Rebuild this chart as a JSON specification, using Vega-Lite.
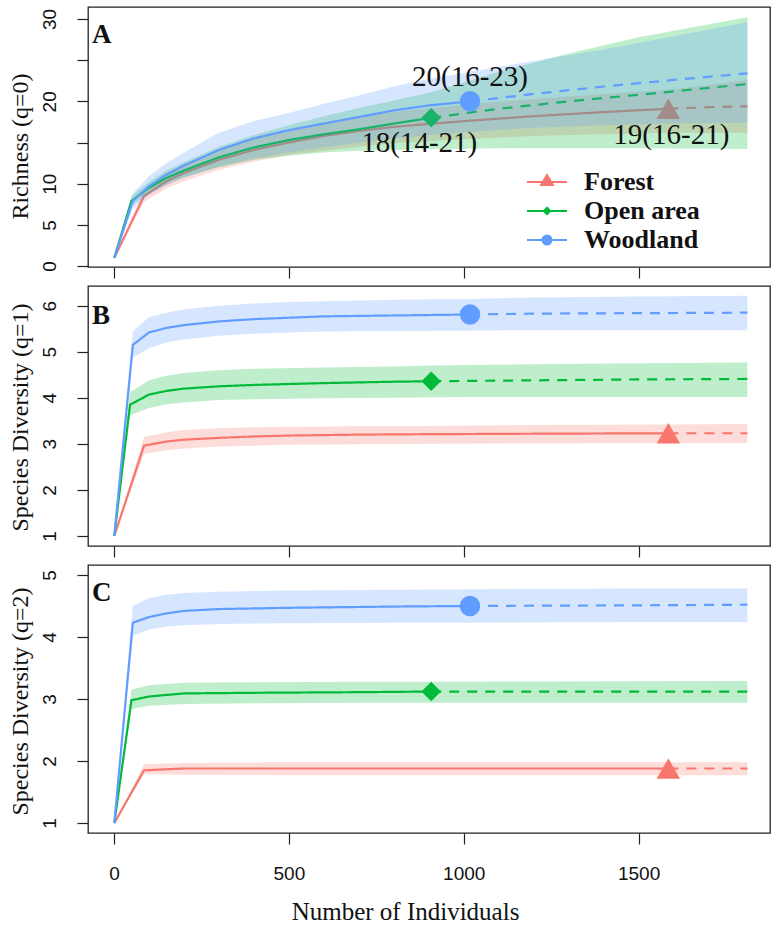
{
  "$schema": "https://vega.github.io/schema/vega-lite/v6.json",
  "autosize": {"type": "pad"},
  "padding": {"left": 7, "top": 6, "right": 0, "bottom": 0},
  "background": "white",
  "spacing": 19,
  "bounds": "flush",
  "config": {
    "view": {"stroke": "#222", "strokeWidth": 1.3},
    "axis": {"grid": false, "domain": false, "tickColor": "#222", "tickWidth": 1.2, "tickSize": 11,
      "labelFont": "Liberation Sans", "labelFontSize": 19, "labelColor": "#111",
      "titleFont": "Liberation Serif", "titleFontSize": 24, "titleFontWeight": "normal", "titleColor": "#111"},
    "title": {"font": "Liberation Serif", "fontSize": 27, "fontWeight": "bold", "color": "#111"}
  },
  "datasets": {
    "d": [
      {"p":"A","s":"Forest","m":"i","x":1,"y":1,"lo":1,"hi":1},
      {"p":"A","s":"Forest","m":"i","x":86,"y":8.5,"lo":7.8,"hi":9.2},
      {"p":"A","s":"Forest","m":"i","x":150,"y":10.3,"lo":9.4,"hi":11.2},
      {"p":"A","s":"Forest","m":"i","x":200,"y":11.3,"lo":10.3,"hi":12.3},
      {"p":"A","s":"Forest","m":"i","x":300,"y":12.9,"lo":11.7,"hi":14.1},
      {"p":"A","s":"Forest","m":"i","x":400,"y":14.1,"lo":12.7,"hi":15.5},
      {"p":"A","s":"Forest","m":"i","x":500,"y":15.0,"lo":13.5,"hi":16.5},
      {"p":"A","s":"Forest","m":"i","x":600,"y":15.8,"lo":14.0,"hi":17.4},
      {"p":"A","s":"Forest","m":"i","x":700,"y":16.4,"lo":14.5,"hi":18.1},
      {"p":"A","s":"Forest","m":"i","x":800,"y":16.9,"lo":14.9,"hi":18.7},
      {"p":"A","s":"Forest","m":"i","x":1000,"y":17.6,"lo":15.4,"hi":19.6},
      {"p":"A","s":"Forest","m":"i","x":1200,"y":18.2,"lo":15.8,"hi":20.3},
      {"p":"A","s":"Forest","m":"i","x":1400,"y":18.7,"lo":16.0,"hi":20.9},
      {"p":"A","s":"Forest","m":"i","x":1585,"y":19.1,"lo":16.2,"hi":21.4,"o":1,"lab":"19(16-21)"},
      {"p":"A","s":"Forest","m":"e","x":1585,"y":19.1,"lo":16.2,"hi":21.4},
      {"p":"A","s":"Forest","m":"e","x":1700,"y":19.3,"lo":16.2,"hi":22.0},
      {"p":"A","s":"Forest","m":"e","x":1811,"y":19.4,"lo":16.2,"hi":22.6},

      {"p":"A","s":"Open area","m":"i","x":1,"y":1,"lo":1,"hi":1},
      {"p":"A","s":"Open area","m":"i","x":50,"y":7.9,"lo":7.3,"hi":8.5},
      {"p":"A","s":"Open area","m":"i","x":100,"y":9.5,"lo":8.8,"hi":10.2},
      {"p":"A","s":"Open area","m":"i","x":150,"y":10.7,"lo":9.9,"hi":11.6},
      {"p":"A","s":"Open area","m":"i","x":200,"y":11.6,"lo":10.8,"hi":12.6},
      {"p":"A","s":"Open area","m":"i","x":300,"y":13.2,"lo":12.0,"hi":14.5},
      {"p":"A","s":"Open area","m":"i","x":400,"y":14.4,"lo":12.9,"hi":15.9},
      {"p":"A","s":"Open area","m":"i","x":500,"y":15.3,"lo":13.4,"hi":17.1},
      {"p":"A","s":"Open area","m":"i","x":600,"y":16.0,"lo":13.8,"hi":18.2},
      {"p":"A","s":"Open area","m":"i","x":700,"y":16.6,"lo":14.0,"hi":19.2},
      {"p":"A","s":"Open area","m":"i","x":800,"y":17.3,"lo":14.1,"hi":20.1},
      {"p":"A","s":"Open area","m":"i","x":907,"y":18.0,"lo":14.2,"hi":21.1,"o":1,"lab":"18(14-21)"},
      {"p":"A","s":"Open area","m":"e","x":907,"y":18.0,"lo":14.2,"hi":21.1},
      {"p":"A","s":"Open area","m":"e","x":1100,"y":19.1,"lo":14.3,"hi":23.6},
      {"p":"A","s":"Open area","m":"e","x":1300,"y":20.0,"lo":14.3,"hi":25.8},
      {"p":"A","s":"Open area","m":"e","x":1500,"y":20.8,"lo":14.3,"hi":27.8},
      {"p":"A","s":"Open area","m":"e","x":1811,"y":22.1,"lo":14.2,"hi":30.2},

      {"p":"A","s":"Woodland","m":"i","x":1,"y":1,"lo":1,"hi":1},
      {"p":"A","s":"Woodland","m":"i","x":54,"y":7.9,"lo":7.0,"hi":8.8},
      {"p":"A","s":"Woodland","m":"i","x":100,"y":9.7,"lo":8.6,"hi":10.9},
      {"p":"A","s":"Woodland","m":"i","x":150,"y":11.1,"lo":9.8,"hi":12.5},
      {"p":"A","s":"Woodland","m":"i","x":200,"y":12.2,"lo":10.7,"hi":13.8},
      {"p":"A","s":"Woodland","m":"i","x":300,"y":14.1,"lo":12.1,"hi":16.2},
      {"p":"A","s":"Woodland","m":"i","x":400,"y":15.5,"lo":13.1,"hi":17.6},
      {"p":"A","s":"Woodland","m":"i","x":500,"y":16.5,"lo":13.8,"hi":18.6},
      {"p":"A","s":"Woodland","m":"i","x":600,"y":17.3,"lo":14.4,"hi":19.7},
      {"p":"A","s":"Woodland","m":"i","x":700,"y":18.1,"lo":15.0,"hi":20.7},
      {"p":"A","s":"Woodland","m":"i","x":800,"y":18.9,"lo":15.5,"hi":21.8},
      {"p":"A","s":"Woodland","m":"i","x":900,"y":19.5,"lo":15.9,"hi":22.7},
      {"p":"A","s":"Woodland","m":"i","x":1018,"y":20.0,"lo":16.3,"hi":23.6,"o":1,"lab":"20(16-23)"},
      {"p":"A","s":"Woodland","m":"e","x":1018,"y":20.0,"lo":16.3,"hi":23.6},
      {"p":"A","s":"Woodland","m":"e","x":1200,"y":20.9,"lo":16.8,"hi":24.9},
      {"p":"A","s":"Woodland","m":"e","x":1400,"y":21.8,"lo":17.1,"hi":26.3},
      {"p":"A","s":"Woodland","m":"e","x":1600,"y":22.6,"lo":17.3,"hi":27.9},
      {"p":"A","s":"Woodland","m":"e","x":1811,"y":23.4,"lo":17.4,"hi":29.6},

      {"p":"B","s":"Forest","m":"i","x":1,"y":1,"lo":1,"hi":1},
      {"p":"B","s":"Forest","m":"i","x":86,"y":2.96,"lo":2.78,"hi":3.15},
      {"p":"B","s":"Forest","m":"i","x":150,"y":3.05,"lo":2.86,"hi":3.25},
      {"p":"B","s":"Forest","m":"i","x":200,"y":3.09,"lo":2.9,"hi":3.3},
      {"p":"B","s":"Forest","m":"i","x":300,"y":3.13,"lo":2.94,"hi":3.34},
      {"p":"B","s":"Forest","m":"i","x":400,"y":3.16,"lo":2.96,"hi":3.36},
      {"p":"B","s":"Forest","m":"i","x":500,"y":3.18,"lo":2.98,"hi":3.37},
      {"p":"B","s":"Forest","m":"i","x":700,"y":3.2,"lo":2.99,"hi":3.38},
      {"p":"B","s":"Forest","m":"i","x":900,"y":3.21,"lo":3.0,"hi":3.39},
      {"p":"B","s":"Forest","m":"i","x":1200,"y":3.22,"lo":3.01,"hi":3.41},
      {"p":"B","s":"Forest","m":"i","x":1585,"y":3.23,"lo":3.02,"hi":3.42,"o":1},
      {"p":"B","s":"Forest","m":"e","x":1585,"y":3.23,"lo":3.02,"hi":3.42},
      {"p":"B","s":"Forest","m":"e","x":1811,"y":3.23,"lo":3.02,"hi":3.43},

      {"p":"B","s":"Open area","m":"i","x":1,"y":1,"lo":1,"hi":1},
      {"p":"B","s":"Open area","m":"i","x":46,"y":3.85,"lo":3.62,"hi":4.12},
      {"p":"B","s":"Open area","m":"i","x":100,"y":4.07,"lo":3.78,"hi":4.38},
      {"p":"B","s":"Open area","m":"i","x":150,"y":4.15,"lo":3.86,"hi":4.48},
      {"p":"B","s":"Open area","m":"i","x":200,"y":4.2,"lo":3.9,"hi":4.54},
      {"p":"B","s":"Open area","m":"i","x":300,"y":4.25,"lo":3.95,"hi":4.6},
      {"p":"B","s":"Open area","m":"i","x":400,"y":4.28,"lo":3.97,"hi":4.63},
      {"p":"B","s":"Open area","m":"i","x":600,"y":4.32,"lo":3.99,"hi":4.66},
      {"p":"B","s":"Open area","m":"i","x":800,"y":4.35,"lo":4.0,"hi":4.68},
      {"p":"B","s":"Open area","m":"i","x":907,"y":4.36,"lo":4.01,"hi":4.7,"o":1},
      {"p":"B","s":"Open area","m":"e","x":907,"y":4.36,"lo":4.01,"hi":4.7},
      {"p":"B","s":"Open area","m":"e","x":1200,"y":4.38,"lo":4.02,"hi":4.73},
      {"p":"B","s":"Open area","m":"e","x":1500,"y":4.4,"lo":4.02,"hi":4.75},
      {"p":"B","s":"Open area","m":"e","x":1811,"y":4.41,"lo":4.02,"hi":4.77},

      {"p":"B","s":"Woodland","m":"i","x":1,"y":1,"lo":1,"hi":1},
      {"p":"B","s":"Woodland","m":"i","x":54,"y":5.15,"lo":4.87,"hi":5.45},
      {"p":"B","s":"Woodland","m":"i","x":100,"y":5.42,"lo":5.08,"hi":5.75},
      {"p":"B","s":"Woodland","m":"i","x":150,"y":5.52,"lo":5.2,"hi":5.85},
      {"p":"B","s":"Woodland","m":"i","x":200,"y":5.58,"lo":5.27,"hi":5.92},
      {"p":"B","s":"Woodland","m":"i","x":300,"y":5.66,"lo":5.35,"hi":6.0},
      {"p":"B","s":"Woodland","m":"i","x":400,"y":5.71,"lo":5.39,"hi":6.05},
      {"p":"B","s":"Woodland","m":"i","x":500,"y":5.74,"lo":5.42,"hi":6.08},
      {"p":"B","s":"Woodland","m":"i","x":600,"y":5.77,"lo":5.44,"hi":6.1},
      {"p":"B","s":"Woodland","m":"i","x":800,"y":5.79,"lo":5.45,"hi":6.13},
      {"p":"B","s":"Woodland","m":"i","x":1018,"y":5.81,"lo":5.46,"hi":6.15,"o":1},
      {"p":"B","s":"Woodland","m":"e","x":1018,"y":5.81,"lo":5.46,"hi":6.15},
      {"p":"B","s":"Woodland","m":"e","x":1200,"y":5.83,"lo":5.47,"hi":6.18},
      {"p":"B","s":"Woodland","m":"e","x":1500,"y":5.84,"lo":5.47,"hi":6.2},
      {"p":"B","s":"Woodland","m":"e","x":1811,"y":5.85,"lo":5.47,"hi":6.22},

      {"p":"C","s":"Forest","m":"i","x":1,"y":1,"lo":1,"hi":1},
      {"p":"C","s":"Forest","m":"i","x":86,"y":1.85,"lo":1.79,"hi":1.95},
      {"p":"C","s":"Forest","m":"i","x":200,"y":1.88,"lo":1.78,"hi":1.97},
      {"p":"C","s":"Forest","m":"i","x":500,"y":1.88,"lo":1.77,"hi":1.98},
      {"p":"C","s":"Forest","m":"i","x":1000,"y":1.88,"lo":1.77,"hi":1.98},
      {"p":"C","s":"Forest","m":"i","x":1585,"y":1.88,"lo":1.77,"hi":1.98,"o":1},
      {"p":"C","s":"Forest","m":"e","x":1585,"y":1.88,"lo":1.77,"hi":1.98},
      {"p":"C","s":"Forest","m":"e","x":1811,"y":1.88,"lo":1.77,"hi":1.98},

      {"p":"C","s":"Open area","m":"i","x":1,"y":1,"lo":1,"hi":1},
      {"p":"C","s":"Open area","m":"i","x":50,"y":2.98,"lo":2.84,"hi":3.15},
      {"p":"C","s":"Open area","m":"i","x":100,"y":3.04,"lo":2.89,"hi":3.22},
      {"p":"C","s":"Open area","m":"i","x":200,"y":3.09,"lo":2.92,"hi":3.26},
      {"p":"C","s":"Open area","m":"i","x":400,"y":3.1,"lo":2.93,"hi":3.27},
      {"p":"C","s":"Open area","m":"i","x":700,"y":3.11,"lo":2.94,"hi":3.28},
      {"p":"C","s":"Open area","m":"i","x":907,"y":3.12,"lo":2.94,"hi":3.28,"o":1},
      {"p":"C","s":"Open area","m":"e","x":907,"y":3.12,"lo":2.94,"hi":3.28},
      {"p":"C","s":"Open area","m":"e","x":1811,"y":3.12,"lo":2.94,"hi":3.29},

      {"p":"C","s":"Woodland","m":"i","x":1,"y":1,"lo":1,"hi":1},
      {"p":"C","s":"Woodland","m":"i","x":54,"y":4.23,"lo":4.02,"hi":4.5},
      {"p":"C","s":"Woodland","m":"i","x":100,"y":4.32,"lo":4.12,"hi":4.63},
      {"p":"C","s":"Woodland","m":"i","x":150,"y":4.38,"lo":4.17,"hi":4.68},
      {"p":"C","s":"Woodland","m":"i","x":200,"y":4.42,"lo":4.19,"hi":4.71},
      {"p":"C","s":"Woodland","m":"i","x":300,"y":4.45,"lo":4.21,"hi":4.73},
      {"p":"C","s":"Woodland","m":"i","x":500,"y":4.47,"lo":4.22,"hi":4.75},
      {"p":"C","s":"Woodland","m":"i","x":800,"y":4.49,"lo":4.23,"hi":4.76},
      {"p":"C","s":"Woodland","m":"i","x":1018,"y":4.5,"lo":4.23,"hi":4.77,"o":1},
      {"p":"C","s":"Woodland","m":"e","x":1018,"y":4.5,"lo":4.23,"hi":4.77},
      {"p":"C","s":"Woodland","m":"e","x":1500,"y":4.51,"lo":4.24,"hi":4.78},
      {"p":"C","s":"Woodland","m":"e","x":1811,"y":4.52,"lo":4.24,"hi":4.78}
    ]
  },
  "vconcat": [
    {
      "width": 682, "height": 260,
      "data": {"name": "d"},
      "title": {"text": "A", "anchor": "start", "frame": "group", "offset": 0, "baseline": "alphabetic", "dx": 4, "dy": 63},
      "transform": [{"filter": "datum.p == 'A'"}],
      "encoding": {
        "x": {"field": "x", "type": "quantitative", "scale": {"domain": [-74.2, 1875.6], "nice": false, "zero": false}, "axis": {"values": [0, 500, 1000, 1500], "labels": false, "title": null}},
        "color": {"field": "s", "type": "nominal", "scale": {"domain": ["Forest", "Open area", "Woodland"], "range": ["#F8766D", "#00BA38", "#619CFF"]},
          "legend": {"orient": "none", "legendX": 443.5, "legendY": 159.5, "title": null, "padding": 0, "rowPadding": 0, "labelOffset": 21.5,
            "labelFont": "Liberation Serif", "labelFontSize": 26, "labelFontWeight": "bold", "labelColor": "#111", "labelLimit": 0,
            "symbolSize": 841, "symbolStrokeWidth": 2, "symbolOpacity": 1,
            "encode": {"symbols": {"update": {
              "shape": {"signal": "datum.value == 'Forest' ? 'M-1.38,0H1.38M0,-0.48L0.41,0.2L-0.41,0.2Z' : datum.value == 'Open area' ? 'M-1.38,0H1.38M0,-0.22L0.22,0L0,0.22L-0.22,0Z' : 'M-1.38,0H1.38M-0.31,0A0.31,0.31,0,1,0,0.31,0A0.31,0.31,0,1,0,-0.31,0Z'"},
              "fill": {"signal": "datum.value == 'Forest' ? '#F8766D' : datum.value == 'Open area' ? '#00BA38' : '#619CFF'"},
              "stroke": {"signal": "datum.value == 'Forest' ? '#F8766D' : datum.value == 'Open area' ? '#00BA38' : '#619CFF'"},
              "strokeWidth": {"value": 2}, "opacity": {"value": 1}, "fillOpacity": {"value": 1}, "strokeOpacity": {"value": 1}}}}}}
      },
      "layer": [
        {"transform": [{"filter": "datum.s == 'Forest'"}], "mark": {"type": "area", "opacity": 0.25},
          "encoding": {"y": {"field": "lo", "type": "quantitative", "scale": {"domain": [-0.12, 31.46], "nice": false, "zero": false}, "axis": {"values": [0, 5, 10, 15, 20, 25, 30], "format": "d", "labelExpr": "datum.value == 15 || datum.value == 25 ? '' : datum.label", "labelOverlap": false, "labelAngle": -90, "labelAlign": "center", "labelBaseline": "alphabetic", "labelPadding": 22, "title": "Richness (q=0)", "titleAngle": -90, "titleBaseline": "alphabetic", "titleAlign": "center", "titleX": -61, "titleY": 139}}, "y2": {"field": "hi"}}},
        {"transform": [{"filter": "datum.s == 'Forest'"}], "mark": {"type": "line", "strokeWidth": 2.2},
          "encoding": {"y": {"field": "y", "type": "quantitative"}, "strokeDash": {"field": "m", "type": "nominal", "scale": {"domain": ["i", "e"], "range": [[1, 0], [10, 8]]}, "legend": null}}},
        {"transform": [{"filter": "datum.s == 'Forest' && datum.o == 1"}], "mark": {"type": "point", "filled": true, "opacity": 1, "shape": "triangle-up", "size": 550},
          "encoding": {"y": {"field": "y", "type": "quantitative"}}},
        {"transform": [{"filter": "datum.s == 'Open area'"}], "mark": {"type": "area", "opacity": 0.25},
          "encoding": {"y": {"field": "lo", "type": "quantitative"}, "y2": {"field": "hi"}}},
        {"transform": [{"filter": "datum.s == 'Open area'"}], "mark": {"type": "line", "strokeWidth": 2.2},
          "encoding": {"y": {"field": "y", "type": "quantitative"}, "strokeDash": {"field": "m", "type": "nominal", "scale": {"domain": ["i", "e"], "range": [[1, 0], [10, 8]]}, "legend": null}}},
        {"transform": [{"filter": "datum.s == 'Open area' && datum.o == 1"}], "mark": {"type": "point", "filled": true, "opacity": 1, "shape": "diamond", "size": 380},
          "encoding": {"y": {"field": "y", "type": "quantitative"}}},
        {"transform": [{"filter": "datum.s == 'Woodland'"}], "mark": {"type": "area", "opacity": 0.25},
          "encoding": {"y": {"field": "lo", "type": "quantitative"}, "y2": {"field": "hi"}}},
        {"transform": [{"filter": "datum.s == 'Woodland'"}], "mark": {"type": "line", "strokeWidth": 2.2},
          "encoding": {"y": {"field": "y", "type": "quantitative"}, "strokeDash": {"field": "m", "type": "nominal", "scale": {"domain": ["i", "e"], "range": [[1, 0], [10, 8]]}, "legend": null}}},
        {"transform": [{"filter": "datum.s == 'Woodland' && datum.o == 1"}], "mark": {"type": "point", "filled": true, "opacity": 1, "shape": "circle", "size": 420},
          "encoding": {"y": {"field": "y", "type": "quantitative"}}},
        {"transform": [{"filter": "datum.s == 'Woodland' && datum.o == 1"}], "mark": {"type": "text", "font": "Liberation Serif", "fontSize": 29, "baseline": "alphabetic", "align": "center", "dy": -15},
          "encoding": {"y": {"field": "y", "type": "quantitative"}, "text": {"field": "lab"}, "color": {"value": "#111"}}},
        {"transform": [{"filter": "datum.s == 'Open area' && datum.o == 1"}], "mark": {"type": "text", "font": "Liberation Serif", "fontSize": 29, "baseline": "alphabetic", "align": "center", "dx": -12, "dy": 34},
          "encoding": {"y": {"field": "y", "type": "quantitative"}, "text": {"field": "lab"}, "color": {"value": "#111"}}},
        {"transform": [{"filter": "datum.s == 'Forest' && datum.o == 1"}], "mark": {"type": "text", "font": "Liberation Serif", "fontSize": 29, "baseline": "alphabetic", "align": "center", "dx": 3, "dy": 35},
          "encoding": {"y": {"field": "y", "type": "quantitative"}, "text": {"field": "lab"}, "color": {"value": "#111"}}}
      ]
    },
    {
      "width": 682, "height": 260,
      "data": {"name": "d"},
      "title": {"text": "B", "anchor": "start", "frame": "group", "offset": 0, "baseline": "alphabetic", "dx": 4, "dy": 65},
      "transform": [{"filter": "datum.p == 'B'"}],
      "encoding": {
        "x": {"field": "x", "type": "quantitative", "scale": {"domain": [-74.2, 1875.6], "nice": false, "zero": false}, "axis": {"values": [0, 500, 1000, 1500], "labels": false, "title": null}},
        "color": {"field": "s", "type": "nominal", "scale": {"domain": ["Forest", "Open area", "Woodland"], "range": ["#F8766D", "#00BA38", "#619CFF"]}, "legend": null}
      },
      "layer": [
        {"transform": [{"filter": "datum.s == 'Forest'"}], "mark": {"type": "area", "opacity": 0.25},
          "encoding": {"y": {"field": "lo", "type": "quantitative", "scale": {"domain": [0.78, 6.43], "nice": false, "zero": false}, "axis": {"values": [1, 2, 3, 4, 5, 6], "format": "d", "labelOverlap": false, "labelAngle": -90, "labelAlign": "center", "labelBaseline": "alphabetic", "labelPadding": 22, "title": "Species Diversity (q=1)", "titleAngle": -90, "titleBaseline": "alphabetic", "titleAlign": "center", "titleX": -61, "titleY": 131}}, "y2": {"field": "hi"}}},
        {"transform": [{"filter": "datum.s == 'Forest'"}], "mark": {"type": "line", "strokeWidth": 2.2},
          "encoding": {"y": {"field": "y", "type": "quantitative"}, "strokeDash": {"field": "m", "type": "nominal", "scale": {"domain": ["i", "e"], "range": [[1, 0], [10, 8]]}, "legend": null}}},
        {"transform": [{"filter": "datum.s == 'Forest' && datum.o == 1"}], "mark": {"type": "point", "filled": true, "opacity": 1, "shape": "triangle-up", "size": 550},
          "encoding": {"y": {"field": "y", "type": "quantitative"}}},
        {"transform": [{"filter": "datum.s == 'Open area'"}], "mark": {"type": "area", "opacity": 0.25},
          "encoding": {"y": {"field": "lo", "type": "quantitative"}, "y2": {"field": "hi"}}},
        {"transform": [{"filter": "datum.s == 'Open area'"}], "mark": {"type": "line", "strokeWidth": 2.2},
          "encoding": {"y": {"field": "y", "type": "quantitative"}, "strokeDash": {"field": "m", "type": "nominal", "scale": {"domain": ["i", "e"], "range": [[1, 0], [10, 8]]}, "legend": null}}},
        {"transform": [{"filter": "datum.s == 'Open area' && datum.o == 1"}], "mark": {"type": "point", "filled": true, "opacity": 1, "shape": "diamond", "size": 380},
          "encoding": {"y": {"field": "y", "type": "quantitative"}}},
        {"transform": [{"filter": "datum.s == 'Woodland'"}], "mark": {"type": "area", "opacity": 0.25},
          "encoding": {"y": {"field": "lo", "type": "quantitative"}, "y2": {"field": "hi"}}},
        {"transform": [{"filter": "datum.s == 'Woodland'"}], "mark": {"type": "line", "strokeWidth": 2.2},
          "encoding": {"y": {"field": "y", "type": "quantitative"}, "strokeDash": {"field": "m", "type": "nominal", "scale": {"domain": ["i", "e"], "range": [[1, 0], [10, 8]]}, "legend": null}}},
        {"transform": [{"filter": "datum.s == 'Woodland' && datum.o == 1"}], "mark": {"type": "point", "filled": true, "opacity": 1, "shape": "circle", "size": 420},
          "encoding": {"y": {"field": "y", "type": "quantitative"}}}
      ]
    },
    {
      "width": 682, "height": 268,
      "data": {"name": "d"},
      "title": {"text": "C", "anchor": "start", "frame": "group", "offset": 0, "baseline": "alphabetic", "dx": 4, "dy": 63},
      "transform": [{"filter": "datum.p == 'C'"}],
      "encoding": {
        "x": {"field": "x", "type": "quantitative", "scale": {"domain": [-74.2, 1875.6], "nice": false, "zero": false}, "axis": {"values": [0, 500, 1000, 1500], "format": "d", "labelBaseline": "alphabetic", "labelPadding": 35, "title": "Number of Individuals", "titleFontSize": 25, "titleBaseline": "alphabetic", "titleAlign": "center", "titleX": 317, "titleY": 86}},
        "color": {"field": "s", "type": "nominal", "scale": {"domain": ["Forest", "Open area", "Woodland"], "range": ["#F8766D", "#00BA38", "#619CFF"]}, "legend": null}
      },
      "layer": [
        {"transform": [{"filter": "datum.s == 'Forest'"}], "mark": {"type": "area", "opacity": 0.25},
          "encoding": {"y": {"field": "lo", "type": "quantitative", "scale": {"domain": [0.84, 5.16], "nice": false, "zero": false}, "axis": {"values": [1, 2, 3, 4, 5], "format": "d", "labelOverlap": false, "labelAngle": -90, "labelAlign": "center", "labelBaseline": "alphabetic", "labelPadding": 22, "title": "Species Diversity (q=2)", "titleAngle": -90, "titleBaseline": "alphabetic", "titleAlign": "center", "titleX": -61, "titleY": 136}}, "y2": {"field": "hi"}}},
        {"transform": [{"filter": "datum.s == 'Forest'"}], "mark": {"type": "line", "strokeWidth": 2.2},
          "encoding": {"y": {"field": "y", "type": "quantitative"}, "strokeDash": {"field": "m", "type": "nominal", "scale": {"domain": ["i", "e"], "range": [[1, 0], [10, 8]]}, "legend": null}}},
        {"transform": [{"filter": "datum.s == 'Forest' && datum.o == 1"}], "mark": {"type": "point", "filled": true, "opacity": 1, "shape": "triangle-up", "size": 550},
          "encoding": {"y": {"field": "y", "type": "quantitative"}}},
        {"transform": [{"filter": "datum.s == 'Open area'"}], "mark": {"type": "area", "opacity": 0.25},
          "encoding": {"y": {"field": "lo", "type": "quantitative"}, "y2": {"field": "hi"}}},
        {"transform": [{"filter": "datum.s == 'Open area'"}], "mark": {"type": "line", "strokeWidth": 2.2},
          "encoding": {"y": {"field": "y", "type": "quantitative"}, "strokeDash": {"field": "m", "type": "nominal", "scale": {"domain": ["i", "e"], "range": [[1, 0], [10, 8]]}, "legend": null}}},
        {"transform": [{"filter": "datum.s == 'Open area' && datum.o == 1"}], "mark": {"type": "point", "filled": true, "opacity": 1, "shape": "diamond", "size": 380},
          "encoding": {"y": {"field": "y", "type": "quantitative"}}},
        {"transform": [{"filter": "datum.s == 'Woodland'"}], "mark": {"type": "area", "opacity": 0.25},
          "encoding": {"y": {"field": "lo", "type": "quantitative"}, "y2": {"field": "hi"}}},
        {"transform": [{"filter": "datum.s == 'Woodland'"}], "mark": {"type": "line", "strokeWidth": 2.2},
          "encoding": {"y": {"field": "y", "type": "quantitative"}, "strokeDash": {"field": "m", "type": "nominal", "scale": {"domain": ["i", "e"], "range": [[1, 0], [10, 8]]}, "legend": null}}},
        {"transform": [{"filter": "datum.s == 'Woodland' && datum.o == 1"}], "mark": {"type": "point", "filled": true, "opacity": 1, "shape": "circle", "size": 420},
          "encoding": {"y": {"field": "y", "type": "quantitative"}}}
      ]
    }
  ]
}
